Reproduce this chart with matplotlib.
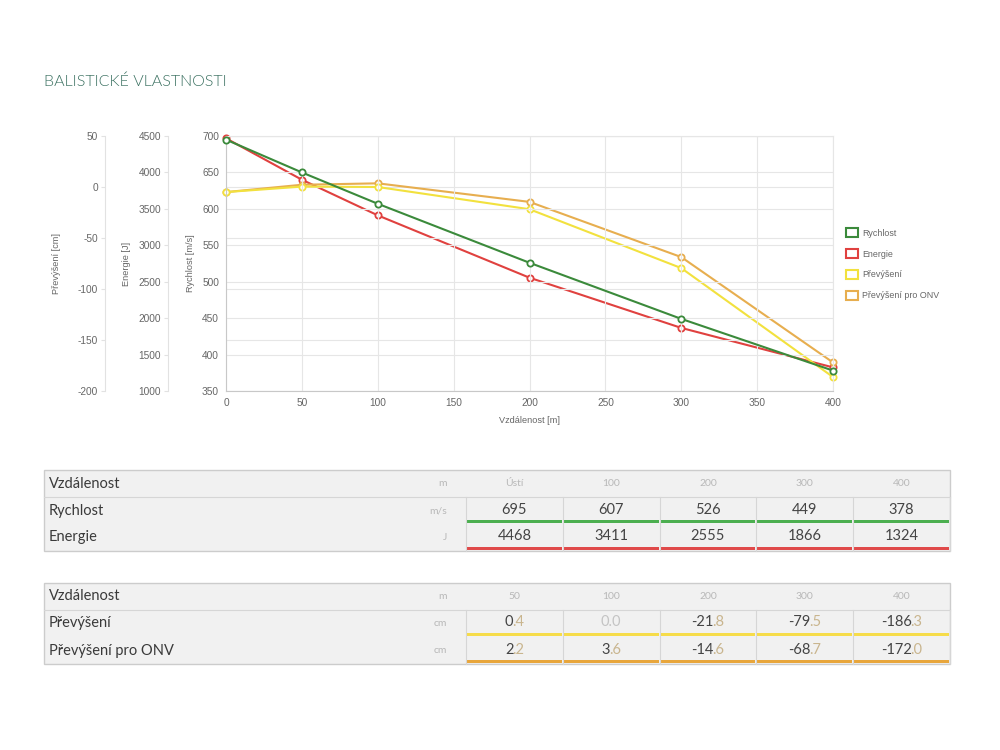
import matplotlib
matplotlib.use("Agg")
import matplotlib.pyplot as plt
from matplotlib.patches import Rectangle, Patch

plt.rcParams['font.family'] = ['Liberation Sans', 'DejaVu Sans']
plt.rcParams['axes.unicode_minus'] = False

distance = [0, 50, 100, 200, 300, 400]
velocity = [695, 650, 607, 526, 449, 378]
energy = [4468, 3900, 3411, 2555, 1866, 1324]
drop = [-5.0, 0.4, 0.0, -21.8, -79.5, -186.3]
drop_onv = [-5.0, 2.2, 3.6, -14.6, -68.7, -172.0]

series_names = ["Rychlost", "Energie", "Převýšení", "Převýšení pro ONV"]

table1_cols = [0, 100, 200, 300, 400]
table1_head = ["Ústí", "100", "200", "300", "400"]
table2_cols = [50, 100, 200, 300, 400]
table2_head = ["50", "100", "200", "300", "400"]

GREEN = '#3b8a3b'
RED = '#e0413f'
YELLOW = '#f2e13e'
ORANGE = '#e7ae4f'
TICK = '#666666'
GRID = '#e6e6e6'

fig = plt.figure(figsize=(10, 7.5), dpi=100)
fig.patch.set_facecolor('white')

# ---- chart ----
ax = fig.add_axes([0.226, 1 - 391 / 750, 0.607, 255 / 750])
ax_e = ax.twinx()
ax_d = ax.twinx()
for p, off in ((ax_e, -58 / 607), (ax_d, -121 / 607)):
    p.spines['left'].set_position(('axes', off))
    p.spines['left'].set_visible(True)
    p.spines['left'].set_color('#e2e2e2')
    for s in ('right', 'top', 'bottom'):
        p.spines[s].set_visible(False)
    p.yaxis.set_label_position('left')
    p.yaxis.set_ticks_position('left')
    p.tick_params(axis='y', colors='#e2e2e2', labelcolor=TICK, labelsize=7.3, length=3, pad=2)

ax.set_xlim(0, 400)
ax.set_ylim(350, 700)
ax_e.set_ylim(1000, 4500)
ax_d.set_ylim(-200, 50)
ax.set_xticks(range(0, 401, 50))
ax.set_yticks(range(350, 701, 50))
ax_e.set_yticks(range(1000, 4501, 500))
ax_d.set_yticks(range(-200, 51, 50))

ax.grid(color=GRID, lw=0.8, zorder=0)
ax_d.grid(axis='y', color=GRID, lw=0.8, zorder=0)
ax.tick_params(colors='#d0d0d0', labelcolor=TICK, labelsize=7.3, length=0, pad=5)
ax.spines['left'].set_color('#c8c8c8')
ax.spines['bottom'].set_color('#c8c8c8')
ax.spines['top'].set_color(GRID)
ax.spines['right'].set_color(GRID)

lab = dict(fontsize=6.6, color=TICK)
ax.set_ylabel("Rychlost [m/s]", labelpad=5, **lab)
ax_e.set_ylabel("Energie [J]", labelpad=5, **lab)
ax_d.set_ylabel("Převýšení [cm]", labelpad=12, **lab)
ax.set_xlabel("Vzdálenost [m]", labelpad=6, **lab)

mk = dict(lw=1.5, marker='o', ms=4.5, mfc='white', mew=1.3, clip_on=False, zorder=3)
ax_d.plot(distance, drop_onv, color=ORANGE, **mk)
ax_d.plot(distance, drop, color=YELLOW, **mk)
ax_e.plot(distance, energy, color=RED, **mk)
ax.plot(distance, velocity, color=GREEN, **mk)
ax.set_zorder(3)
ax.patch.set_visible(False)

handles = [Patch(facecolor='white', edgecolor=c, lw=1.5) for c in (GREEN, RED, YELLOW, ORANGE)]
fig.legend(handles, series_names, loc='upper left', bbox_to_anchor=(0.838, 0.706),
           frameon=False, fontsize=6.4, labelcolor=TICK, handlelength=1.3, handleheight=1.1,
           handletextpad=0.5, labelspacing=1.3)

# ---- title and tables ----
ov = fig.add_axes([0, 0, 1, 1])
ov.set_xlim(0, 1000)
ov.set_ylim(750, 0)
ov.axis('off')
ov.set_zorder(-1)

TF = ['Lato', 'DejaVu Sans']
ov.text(44, 82, "BALISTICKÉ VLASTNOSTI", fontsize=11.5, color='#3a7060',
        family=TF, fontweight=300, va='center', ha='left')

X0, X1, XC = 44, 950, 466
ROW = 27
CW = (X1 - XC) / 5
renderer = fig.canvas.get_renderer()


def text_width(s):
    t = ov.text(0, 0, s, fontsize=10.5, family=TF)
    w = t.get_window_extent(renderer).width
    t.remove()
    return w


def value_text(xc, yc, v, decimal):
    if not decimal:
        ov.text(xc, yc, str(v), ha='center', va='center', fontsize=10.5, color='#444444', family=TF)
        return
    s = f"{v:.1f}"
    if v == 0:
        ov.text(xc, yc, s, ha='center', va='center', fontsize=10.5, color='#c4c4c4', family=TF)
        return
    ip, dp = s.split('.')
    w_ip = text_width(ip) - 1.5
    w_dp = text_width('.' + dp)
    left = xc - (w_ip + w_dp) / 2
    ov.text(left, yc, ip, ha='left', va='center', fontsize=10.5, color='#444444', family=TF)
    ov.text(left + w_ip, yc, '.' + dp, ha='left', va='center', fontsize=10.5,
            color='#c9b58e', family=TF)


def draw_table(top, heads, rows, decimal):
    n = len(rows) + 1
    ov.add_patch(Rectangle((X0, top), X1 - X0, ROW * n, facecolor='#f1f1f1',
                           edgecolor='#cccccc', lw=1))
    ov.plot([X0, X1], [top + ROW, top + ROW], color='#d6d6d6', lw=0.8)
    ov.text(X0 + 5, top + ROW / 2, "Vzdálenost", fontsize=10.5, color='#3a3a3a',
            va='center', ha='left', family=TF)
    ov.text(447, top + ROW / 2, "m", fontsize=7.5, color='#b8b8b8', va='center', ha='right', family=TF)
    for i, h in enumerate(heads):
        ov.text(XC + CW * (i + 0.5), top + ROW / 2, h, fontsize=7.5, color='#b8b8b8',
                va='center', ha='center', family=TF)
    for i in range(6):
        x = XC + CW * i
        ov.plot([x, x], [top + ROW, top + ROW * n], color='#d6d6d6', lw=0.8)
    for r, (label, unit, vals, color) in enumerate(rows):
        y0 = top + ROW * (r + 1)
        ov.text(X0 + 5, y0 + ROW / 2, label, fontsize=10.5, color='#3a3a3a',
                va='center', ha='left', family=TF)
        ov.text(447, y0 + ROW / 2, unit, fontsize=7.5, color='#b8b8b8', va='center', ha='right', family=TF)
        for i, v in enumerate(vals):
            value_text(XC + CW * (i + 0.5), y0 + ROW / 2 - 1, v, decimal)
            ov.add_patch(Rectangle((XC + CW * i + 1, y0 + ROW - 4), CW - 2, 3,
                                   facecolor=color, edgecolor='none'))


def pick(series, cols):
    return [series[distance.index(c)] for c in cols]


draw_table(470, table1_head, [
    ("Rychlost", "m/s", pick(velocity, table1_cols), '#4caf50'),
    ("Energie", "J", pick(energy, table1_cols), '#e04a4a'),
], decimal=False)

draw_table(583, table2_head, [
    ("Převýšení", "cm", pick(drop, table2_cols), '#f6dc4a'),
    ("Převýšení pro ONV", "cm", pick(drop_onv, table2_cols), '#e8a63c'),
], decimal=True)

fig.savefig("out.png", dpi=100)
